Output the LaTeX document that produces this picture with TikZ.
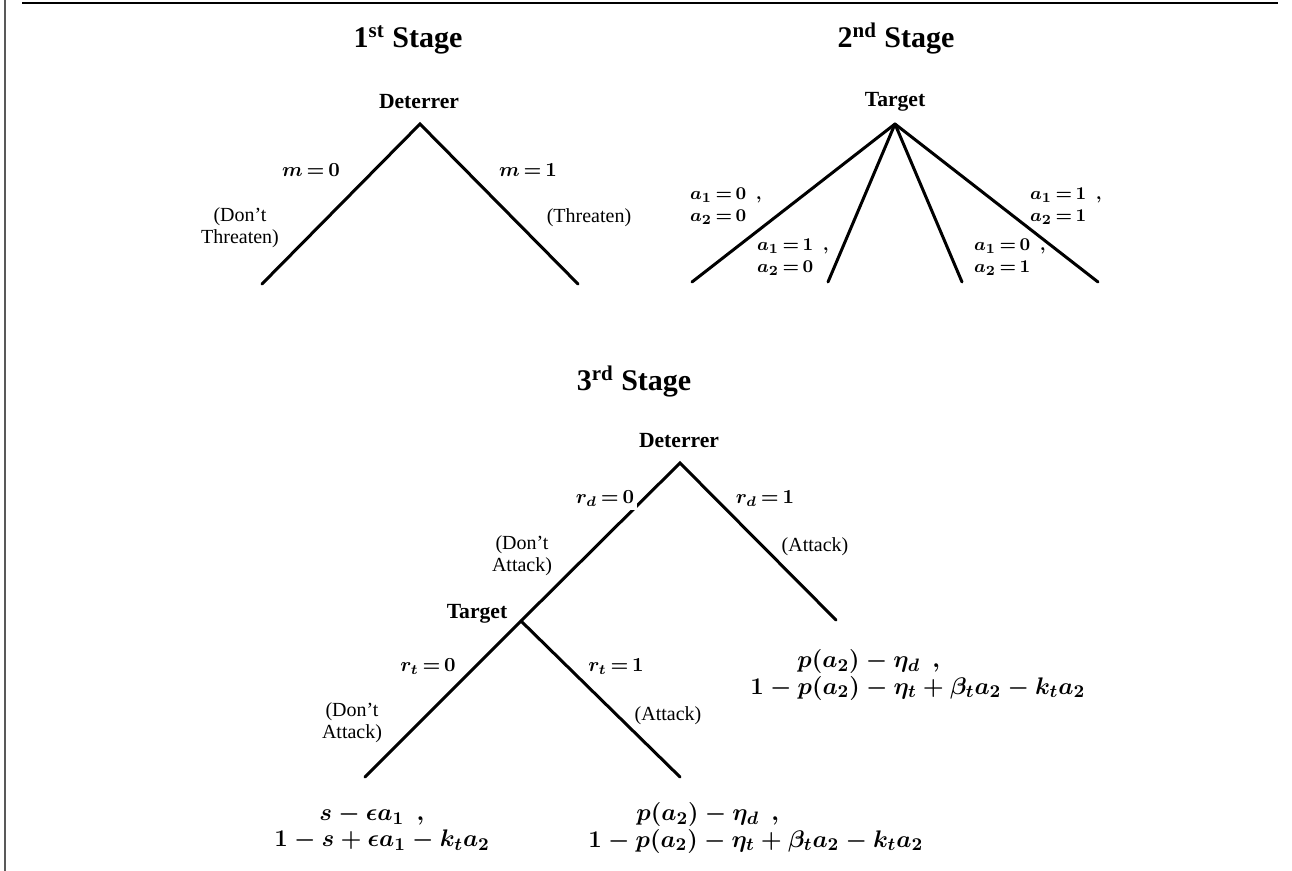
\documentclass[tikz,border=0pt]{standalone}
\usepackage{fontspec}
\setmainfont{Liberation Serif}
\newcommand\tightrel{\thickmuskip=3mu\relax}
\begin{document}
\begin{tikzpicture}[x=0.5pt,y=-0.5pt,
  branch/.style={line width=1.5pt,line cap=round},
  title/.style={font=\fontsize{15}{17}\selectfont\bfseries,anchor=base},
  player/.style={font=\fontsize{10.8}{12}\selectfont\bfseries},
  act/.style={font=\fontsize{10}{12}\selectfont\boldmath\tightrel},
  choice/.style={font=\fontsize{10}{11}\selectfont,align=center,inner sep=0pt},
  pair/.style={font=\fontsize{9.5}{11}\selectfont\boldmath\tightrel,
    align=left,inner sep=0pt},
  payoff/.style={font=\fontsize{12.3}{13.2}\selectfont\boldmath,align=left,
    inner sep=0pt,anchor=west}]
\useasboundingbox (0,0) rectangle (1292,871);

% frame
\draw[line width=1pt] (22,3) -- (1278,3);
\draw[line width=0.7pt,black!65] (5,0) -- (5,871);

% ---------- first stage ----------
\node[title] (t1) at (408,48) {1\textsuperscript{st} Stage};
\node[player] (p1) at (419,102) {Deterrer};
\coordinate (a) at (420,124);
\coordinate (aL) at (262,284);
\coordinate (aR) at (578,284);
\draw[branch] (aL) -- (a) -- (aR);
\node[act] (m0) at (311,170) {$m=0$};
\node[act] (m1) at (528,170) {$m=1$};
\node[choice] (c10) at (240,228) {(Don’t\\Threaten)};
\node[choice] (c11) at (589,218) {(Threaten)};

% ---------- second stage ----------
\node[title] (t2) at (896,48) {2\textsuperscript{nd} Stage};
\node[player] (p2) at (895,102) {Target};
\coordinate (b) at (895,124);
\coordinate (b1) at (692,282);
\coordinate (b2) at (828,282);
\coordinate (b3) at (962,282);
\coordinate (b4) at (1098,282);
\draw[branch] (b) -- (b1);
\draw[branch] (b) -- (b2);
\draw[branch] (b) -- (b3);
\draw[branch] (b) -- (b4);
\node[pair] (q1) at (726,206) {$a_1=0\enspace,$\\ $a_2=0$};
\node[pair] (q2) at (793,257) {$a_1=1\enspace,$\\ $a_2=0$};
\node[pair] (q3) at (1010,257) {$a_1=0\enspace,$\\ $a_2=1$};
\node[pair] (q4) at (1066,206) {$a_1=1\enspace,$\\ $a_2=1$};

% ---------- third stage ----------
\node[title] (t3) at (634,391) {3\textsuperscript{rd} Stage};
\node[player] (p3) at (679,441) {Deterrer};
\node[player] (p4) at (477,614) {Target};
\coordinate (c) at (680,463);
\coordinate (d) at (521,621);
\coordinate (cR) at (836,620);
\coordinate (dL) at (365,777);
\coordinate (dR) at (680,777);
\draw[branch] (cR) -- (c) -- (d) -- (dL);
\draw[branch] (d) -- (dR);
\node[act,fill=white,inner sep=1.5pt] (rd0) at (605,499) {$r_d=0$};
\node[act] (rd1) at (765,499) {$r_d=1$};
\node[choice] (c30) at (522,556) {(Don’t\\Attack)};
\node[choice] (c31) at (815,547) {(Attack)};
\node[act] (rt0) at (428,667) {$r_t=0$};
\node[act] (rt1) at (616,667) {$r_t=1$};
\node[choice] (c40) at (352,723) {(Don’t\\Attack)};
\node[choice] (c41) at (668,716) {(Attack)};

% payoffs
\node[payoff] (u1) at (750,675)
  {\hspace*{23.5pt}$p(a_2)-\eta_d\enspace,$\\ $1-p(a_2)-\eta_t+\beta_t a_2-k_t a_2$};
\node[payoff] (u2) at (274,828)
  {\hspace*{22.5pt}$s-\epsilon a_1\enspace,$\\ $1-s+\epsilon a_1-k_t a_2$};
\node[payoff] (u3) at (588,828)
  {\hspace*{24pt}$p(a_2)-\eta_d\enspace,$\\ $1-p(a_2)-\eta_t+\beta_t a_2-k_t a_2$};
\end{tikzpicture}
\end{document}
